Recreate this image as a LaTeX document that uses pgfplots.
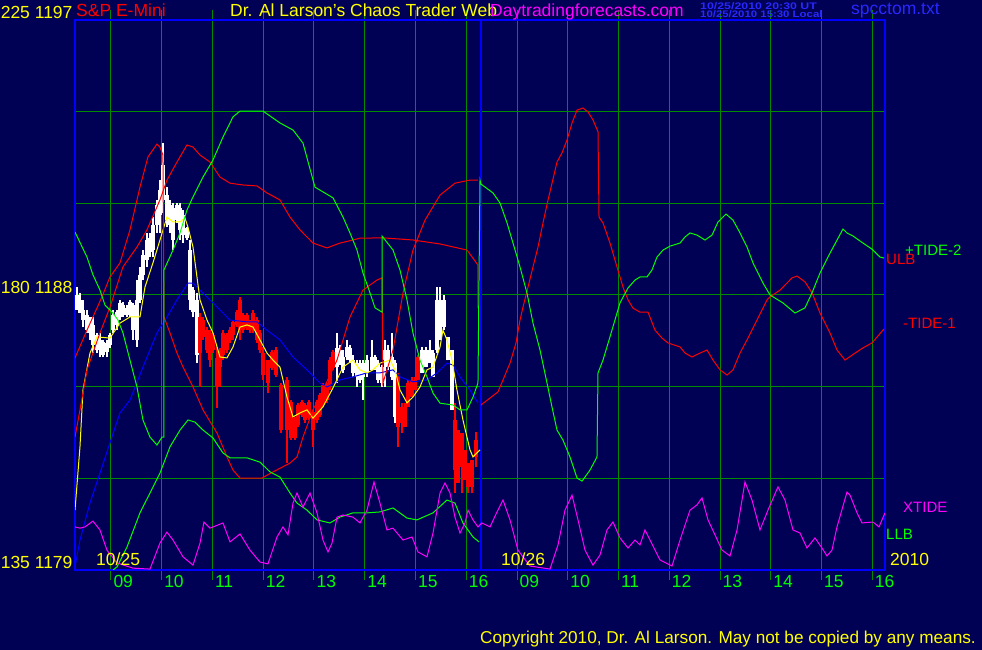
\documentclass[border=0pt]{standalone}
\usepackage{pgfplots}
\pgfplotsset{compat=1.18}
\usepackage{pgfplotstable}
\usepackage{graphicx}
\usepackage{fontspec}
\setmainfont{Liberation Sans}

\definecolor{bg}{RGB}{0,0,84}
\definecolor{gridg}{RGB}{0,140,0}
\definecolor{lgreen}{RGB}{0,255,0}
\definecolor{lred}{RGB}{255,0,0}
\definecolor{lmag}{RGB}{255,0,255}
\definecolor{lyel}{RGB}{255,255,0}
\definecolor{lblue}{RGB}{0,0,255}
\definecolor{tblue}{RGB}{40,40,255}

\newcommand\bigf{\fontsize{17.5}{20}\selectfont}
\newcommand\midf{\fontsize{15}{17}\selectfont}
\newcommand\smallf{\fontsize{9.5}{10}\selectfont\bfseries}

% price bars, 5 min: x = hour (day 2 = hour+8), wick low/high, body low/high
\pgfplotstableread{
x wl wh bl bh
8.330 1187.51 1188.26 1187.51 1188.00
8.389 1187.41 1188.06 1187.41 1187.84
8.448 1186.95 1187.84 1187.18 1187.51
8.527 1186.76 1187.51 1186.85 1187.35
8.586 1186.53 1187.28 1186.76 1187.28
8.645 1186.10 1187.28 1186.36 1187.02
8.724 1186.10 1186.76 1186.20 1186.69
8.783 1185.97 1186.76 1186.27 1186.53
8.842 1185.97 1186.53 1186.04 1186.46
8.921 1185.97 1186.53 1186.14 1186.43
8.980 1186.27 1186.76 1186.36 1186.69
9.039 1186.76 1187.51 1186.85 1187.35
9.118 1186.85 1187.51 1187.02 1187.44
9.177 1187.18 1187.84 1187.28 1187.74
9.236 1187.28 1187.77 1187.35 1187.67
9.315 1187.28 1187.67 1187.35 1187.57
9.374 1187.28 1187.84 1187.35 1187.77
9.433 1186.53 1187.74 1186.85 1187.67
9.512 1186.30 1188.49 1186.53 1187.84
9.571 1187.74 1188.92 1187.84 1188.65
9.630 1188.49 1189.47 1188.65 1189.31
9.709 1188.92 1190.03 1189.15 1189.80
9.768 1189.24 1190.03 1189.41 1189.87
9.827 1189.24 1190.55 1189.47 1190.29
9.906 1190.03 1191.11 1190.29 1190.95
9.965 1190.03 1191.76 1190.62 1191.44
10.024 1190.68 1192.97 1191.11 1192.26
10.103 1190.23 1191.53 1190.45 1191.27
10.162 1190.03 1191.11 1190.29 1190.95
10.222 1189.47 1191.01 1189.80 1190.85
10.300 1190.36 1191.01 1190.45 1190.95
10.360 1189.80 1191.01 1190.13 1190.85
10.419 1189.70 1190.78 1189.96 1190.62
10.497 1189.80 1190.23 1189.87 1190.19
10.557 1187.51 1189.80 1187.84 1189.47
10.616 1187.28 1188.26 1187.44 1188.16
10.694 1185.77 1188.06 1186.04 1187.84
13.453 1185.12 1186.76 1185.64 1186.27
13.512 1185.71 1186.36 1185.77 1186.20
13.571 1185.45 1186.20 1185.55 1185.97
13.650 1185.87 1186.53 1185.97 1186.30
13.709 1185.77 1186.36 1185.87 1186.27
13.768 1185.32 1186.04 1185.45 1185.87
13.847 1184.99 1185.87 1185.32 1185.77
13.906 1185.12 1185.87 1185.22 1185.77
13.965 1184.56 1185.87 1185.32 1185.77
14.044 1185.32 1186.04 1185.45 1185.87
14.143 1185.55 1186.53 1185.55 1185.97
14.202 1185.55 1186.04 1185.64 1185.97
14.261 1185.12 1185.87 1185.22 1185.77
14.340 1184.99 1185.71 1185.12 1185.64
14.399 1184.99 1186.53 1185.87 1186.20
14.458 1185.55 1186.36 1185.64 1186.20
14.537 1185.22 1186.76 1185.32 1185.97
14.596 1183.81 1185.87 1184.01 1185.77
15.128 1185.45 1186.30 1185.45 1186.20
15.207 1185.64 1186.30 1185.64 1186.20
15.286 1185.77 1186.53 1185.77 1186.20
15.345 1185.32 1186.20 1185.32 1186.10
15.423 1186.10 1188.26 1186.20 1187.84
15.483 1186.53 1188.26 1186.63 1187.84
15.562 1186.85 1188.00 1186.95 1187.84
15.640 1185.87 1186.63 1185.87 1186.63
15.719 1184.24 1186.20 1184.24 1186.20
}\upbars

\pgfplotstableread{
x wl wh bl bh
10.754 1184.99 1187.41 1186.10 1187.28
10.813 1186.53 1187.28 1186.63 1187.18
10.892 1186.10 1186.95 1186.20 1186.85
10.951 1185.64 1186.85 1185.87 1186.76
11.010 1186.10 1186.76 1186.20 1186.69
11.089 1184.30 1186.30 1184.99 1185.94
11.148 1184.99 1186.27 1185.64 1186.14
11.207 1185.87 1186.85 1186.04 1186.76
11.286 1186.10 1186.76 1186.20 1186.69
11.345 1186.43 1186.95 1186.53 1186.85
11.404 1186.53 1187.18 1186.69 1187.12
11.483 1186.95 1187.51 1187.02 1187.44
11.542 1186.53 1187.94 1186.85 1187.84
11.601 1186.76 1187.41 1186.85 1187.35
11.680 1186.85 1187.41 1186.92 1187.35
11.739 1186.76 1187.18 1186.85 1187.12
11.798 1186.76 1187.51 1186.85 1187.41
11.877 1186.43 1187.28 1186.53 1187.18
11.936 1186.10 1186.85 1186.20 1186.76
11.995 1185.22 1186.30 1185.38 1186.10
12.093 1184.78 1185.87 1185.12 1185.87
12.172 1185.55 1186.20 1185.61 1186.14
12.251 1185.32 1186.30 1185.38 1186.20
12.350 1183.48 1185.12 1183.58 1185.05
12.468 1182.50 1185.32 1183.58 1185.22
12.547 1183.25 1184.56 1183.32 1184.50
12.626 1183.25 1184.01 1183.32 1183.97
12.685 1183.68 1184.47 1183.75 1184.40
12.763 1184.01 1184.56 1184.07 1184.50
12.823 1183.81 1184.47 1183.91 1184.40
12.901 1183.91 1184.56 1183.97 1184.50
12.980 1183.02 1184.24 1183.58 1184.17
13.059 1183.81 1184.56 1183.91 1184.50
13.118 1184.01 1184.78 1184.07 1184.72
13.177 1184.34 1185.12 1184.40 1185.05
13.256 1184.47 1185.12 1184.56 1185.05
13.315 1184.89 1185.97 1185.05 1185.87
13.374 1185.55 1186.20 1185.61 1186.14
14.655 1183.02 1185.45 1183.68 1185.32
14.734 1183.48 1184.47 1183.81 1184.34
14.793 1183.68 1184.47 1183.68 1184.34
14.852 1184.34 1185.22 1184.34 1185.12
14.931 1184.66 1185.32 1184.66 1185.22
14.990 1184.89 1185.32 1184.89 1185.22
15.049 1185.22 1186.04 1185.22 1185.97
15.778 1181.52 1184.47 1182.27 1183.91
15.837 1181.85 1183.58 1181.85 1183.58
15.916 1181.52 1183.48 1182.37 1183.48
15.975 1181.95 1182.93 1181.95 1182.93
16.034 1181.52 1182.50 1181.72 1182.50
16.113 1181.52 1182.60 1181.72 1182.60
16.192 1182.37 1183.52 1182.70 1183.25
}\downbars

% one upward error bar per row: from low to high
\pgfplotsset{
  wick/.style={color=#1, only marks, mark=none, mark size=0pt, forget plot,
    error bars/.cd, y dir=plus, y explicit, error mark=none,
    error bar style={draw=#1, line width=1.3pt}},
  body/.style={color=#1, only marks, mark=none, mark size=0pt, forget plot,
    error bars/.cd, y dir=plus, y explicit, error mark=none,
    error bar style={draw=#1, line width=3.8pt}},
}

\begin{document}
\begin{tikzpicture}
\useasboundingbox (0,0) rectangle (982pt,650pt);
\fill[bg] (0,0) rectangle (982pt,650pt);
\begin{axis}[
  at={(75pt,80pt)}, anchor=south west,
  scale only axis, width=810pt, height=550pt,
  xmin=8.291, xmax=24.251, ymin=1179, ymax=1197,
  axis line style={lblue, line width=2.5pt},
  grid=major, major grid style={gridg, line width=1pt},
  xtick={9,...,24},
  xticklabels={09,10,11,12,13,14,15,16,09,10,11,12,13,14,15,16},
  ytick={1179,1182,...,1197},
  yticklabels={135\ 1179,,,180\ 1188,,,225\ 1197},
  tick align=outside, major tick length=10pt,
  xtick style={gridg, line width=1pt},
  ytick style={draw=none},
  xticklabel style={text=lgreen, anchor=north west, font=\bigf, xshift=-1pt, yshift=8pt},
  yticklabel style={text=lyel, anchor=base east, font=\bigf, xshift=11pt, yshift=1pt},
  /pgf/number format/assume math mode=true,
  clip=true,
]
% bars
\addplot[wick=white] table[x=x, y=wl, y error expr={\thisrow{wh}-\thisrow{wl}}] {\upbars};
\addplot[body=white] table[x=x, y=bl, y error expr={\thisrow{bh}-\thisrow{bl}}] {\upbars};
\addplot[wick=lred] table[x=x, y=wl, y error expr={\thisrow{wh}-\thisrow{wl}}] {\downbars};
\addplot[body=lred] table[x=x, y=bl, y error expr={\thisrow{bh}-\thisrow{bl}}] {\downbars};

% day separator
\addplot[lblue, line width=2.5pt] coordinates {(16.29,1179) (16.29,1197)};

% slow average
\addplot[lblue, line width=1pt] coordinates {
(8.291,1179.10) (8.389,1179.98) (8.586,1181.19) (8.783,1182.17) (8.980,1183.16)
(9.177,1184.14) (9.374,1184.56) (9.630,1185.64) (9.906,1186.76) (10.103,1187.28)
(10.300,1187.84) (10.517,1188.39) (10.616,1188.39) (10.754,1188.16) (11.010,1187.74)
(11.207,1187.41) (11.345,1187.18) (11.680,1187.12) (11.877,1187.12) (12.074,1186.85)
(12.330,1186.53) (12.586,1185.97) (12.862,1185.55) (13.118,1185.12) (13.256,1184.99)
(13.512,1185.22) (13.768,1185.32) (14.044,1185.45) (14.300,1185.45) (14.557,1185.55)
(14.695,1185.32) (14.950,1185.16) (15.226,1185.22) (15.423,1185.45) (15.620,1185.77)
(15.739,1185.71) (15.877,1185.32) (16.074,1184.89) (16.231,1184.47)};

% fast average
\addplot[lyel, line width=1pt] coordinates {
(8.291,1180.96) (8.389,1183.03) (8.448,1184.89) (8.586,1186.10) (8.724,1186.63)
(8.980,1186.59) (9.177,1187.08) (9.374,1187.28) (9.571,1187.28) (9.670,1188.26)
(9.827,1189.05) (9.965,1189.80) (10.103,1190.55) (10.222,1190.39) (10.360,1190.39)
(10.458,1190.52) (10.517,1190.22) (10.616,1189.57) (10.754,1187.84) (10.892,1187.18)
(11.010,1186.76) (11.148,1185.97) (11.286,1185.94) (11.404,1186.30) (11.542,1186.95)
(11.680,1187.02) (11.798,1186.95) (11.936,1186.53) (12.074,1186.10) (12.192,1185.87)
(12.330,1185.64) (12.468,1184.66) (12.586,1184.01) (12.724,1184.14) (12.862,1184.24)
(12.980,1183.97) (13.177,1184.34) (13.374,1184.96) (13.571,1185.64) (13.768,1185.87)
(13.906,1185.55) (14.044,1185.45) (14.162,1185.55) (14.300,1185.77) (14.498,1185.87)
(14.596,1185.55) (14.695,1184.89) (14.832,1184.47) (14.950,1184.66) (15.088,1184.99)
(15.226,1185.55) (15.345,1185.64) (15.483,1186.30) (15.541,1186.85) (15.620,1186.53)
(15.719,1185.87) (15.817,1184.89) (15.935,1183.91) (16.074,1182.93) (16.133,1182.70)
(16.271,1182.93)};

% red curves
\addplot[lred, line width=1pt] coordinates {
(8.291,1185.94) (8.527,1186.85) (8.823,1187.94) (8.980,1188.59) (9.177,1189.05)
(9.374,1190.13) (9.571,1191.53) (9.729,1192.52) (9.906,1192.94) (9.965,1192.84)
(10.024,1192.58) (10.044,1187.28) (10.162,1186.76) (10.300,1186.10) (10.419,1185.64)
(10.616,1184.99) (10.813,1184.24) (11.089,1183.48) (11.286,1182.70) (11.404,1182.27)
(11.542,1182.01) (11.975,1182.01) (12.192,1182.21) (12.527,1182.50) (12.665,1182.70)
(12.783,1183.35) (12.980,1184.24) (13.177,1184.89) (13.453,1185.87) (13.709,1187.28)
(13.965,1188.16) (14.241,1188.49) (14.340,1188.56) (14.359,1185.12) (14.557,1186.20)
(14.754,1188.07) (14.950,1189.47) (15.187,1190.45) (15.483,1191.27) (15.778,1191.66)
(16.074,1191.76) (16.231,1191.76)};
\addplot[lred, line width=1pt] coordinates {
(8.291,1183.35) (8.389,1184.24) (8.527,1185.55) (8.783,1186.76) (8.980,1187.60)
(9.236,1188.92) (9.512,1189.57) (9.709,1190.13) (9.965,1191.11) (10.103,1191.76)
(10.300,1192.35) (10.497,1192.91) (10.616,1192.84) (10.754,1192.58) (10.951,1192.35)
(11.148,1191.86) (11.345,1191.66) (11.601,1191.60) (11.877,1191.57) (12.074,1191.34)
(12.330,1191.11) (12.527,1190.55) (12.724,1190.13) (12.980,1189.70) (13.256,1189.54)
(13.512,1189.70) (13.768,1189.80) (13.906,1189.86) (14.359,1189.87) (14.950,1189.80)
(15.483,1189.67) (16.015,1189.47) (16.231,1188.98) (16.231,1187.57)};
\addplot[lred, line width=1pt] coordinates {
(16.290,1184.40) (16.625,1184.83) (16.724,1185.22) (16.862,1185.77) (16.980,1186.43)
(17.059,1187.18) (17.118,1187.60) (17.217,1188.26) (17.315,1188.92) (17.414,1189.57)
(17.512,1190.36) (17.611,1191.11) (17.690,1191.66) (17.788,1192.35) (17.886,1192.65)
(17.985,1193.07) (18.084,1193.63) (18.182,1194.05) (18.300,1194.12) (18.399,1193.99)
(18.497,1193.73) (18.596,1193.34) (18.616,1190.55) (18.694,1190.36) (18.832,1189.70)
(18.970,1188.92) (19.088,1188.26) (19.187,1187.84) (19.285,1187.57) (19.423,1187.44)
(19.581,1187.44) (19.719,1186.85) (19.857,1186.59) (19.975,1186.43) (20.212,1186.30)
(20.310,1186.10) (20.448,1185.97) (20.606,1186.10) (20.744,1186.20) (20.862,1185.87)
(21.000,1185.55) (21.138,1185.38) (21.256,1185.55) (21.394,1186.10) (21.532,1186.53)
(21.729,1187.18) (21.926,1187.84) (21.985,1187.94) (22.182,1188.16) (22.419,1188.56)
(22.517,1188.62) (22.674,1188.43) (22.813,1188.07) (22.970,1187.41) (23.167,1186.76)
(23.305,1186.20) (23.463,1185.87) (23.600,1186.03) (23.817,1186.27) (23.994,1186.43)
(24.231,1186.89)};

% green tide
\addplot[lgreen, line width=1pt] coordinates {
(8.291,1190.06) (8.527,1189.24) (8.645,1188.66) (8.783,1188.16) (8.882,1187.67)
(9.039,1187.41) (9.138,1187.18) (9.236,1186.76) (9.374,1185.87) (9.512,1184.99)
(9.630,1183.91) (9.768,1183.35) (9.906,1183.09) (10.005,1183.35) (10.044,1183.35)
(10.044,1188.82) (10.222,1189.47) (10.360,1190.03) (10.497,1190.78) (10.616,1191.21)
(10.813,1191.86) (11.010,1192.42) (11.207,1193.17) (11.404,1193.83) (11.542,1194.02)
(11.995,1194.02) (12.330,1193.63) (12.586,1193.40) (12.783,1192.97) (13.019,1191.53)
(13.374,1191.18) (13.571,1190.55) (13.709,1190.03) (13.847,1189.47) (13.965,1188.72)
(14.103,1188.07) (14.202,1187.58) (14.340,1187.44) (14.340,1189.93) (14.557,1189.47)
(14.694,1188.82) (14.832,1187.84) (14.950,1186.76) (15.088,1185.87) (15.226,1185.32)
(15.345,1184.79) (15.483,1184.46) (15.739,1184.40) (15.877,1184.24) (16.015,1184.24)
(16.133,1184.66) (16.231,1185.12) (16.271,1191.76) (16.290,1191.63) (16.527,1191.34)
(16.665,1191.01) (16.803,1190.36) (16.921,1189.70) (17.059,1188.92) (17.197,1188.06)
(17.315,1187.08) (17.453,1186.20) (17.591,1185.12) (17.690,1184.33) (17.788,1183.58)
(17.906,1183.25) (18.044,1182.70) (18.182,1182.01) (18.281,1181.91) (18.438,1182.27)
(18.576,1182.70) (18.596,1185.45) (18.694,1185.87) (18.832,1186.63) (19.029,1187.74)
(19.187,1188.23) (19.325,1188.49) (19.423,1188.59) (19.561,1188.59) (19.660,1188.82)
(19.758,1189.24) (19.877,1189.47) (20.015,1189.60) (20.212,1189.70) (20.310,1189.90)
(20.409,1190.03) (20.547,1189.96) (20.704,1189.80) (20.842,1189.96) (20.960,1190.39)
(21.118,1190.65) (21.256,1190.45) (21.394,1190.03) (21.532,1189.57) (21.650,1189.05)
(21.847,1188.39) (21.985,1188.00) (22.241,1187.74) (22.477,1187.41) (22.674,1187.58)
(22.813,1188.07) (22.970,1188.72) (23.167,1189.37) (23.423,1190.16) (23.502,1190.03)
(23.620,1189.93) (23.817,1189.70) (23.994,1189.50) (24.152,1189.24) (24.231,1189.21)};

% lower band
\addplot[lgreen, line width=1pt] coordinates {
(9.039,1179.00) (9.118,1179.10) (9.315,1179.75) (9.571,1180.87) (9.768,1181.52)
(9.965,1182.17) (10.162,1183.03) (10.360,1183.58) (10.517,1183.91) (10.655,1183.84)
(10.813,1183.58) (11.010,1183.32) (11.207,1182.83) (11.345,1182.67) (11.680,1182.67)
(11.936,1182.53) (12.133,1182.21) (12.330,1182.04) (12.527,1181.52) (12.665,1181.19)
(12.862,1180.96) (13.059,1180.64) (13.315,1180.54) (13.512,1180.73) (13.768,1180.87)
(14.044,1180.87) (14.300,1180.90) (14.557,1181.03) (14.832,1180.70) (15.029,1180.64)
(15.345,1180.87) (15.620,1181.29) (15.778,1181.19) (15.935,1180.54) (16.133,1180.08)
(16.251,1179.92)};

% xtide
\addplot[lmag, line width=1pt] coordinates {
(8.291,1180.41) (8.389,1180.37) (8.488,1180.41) (8.645,1180.60) (8.783,1180.31)
(8.921,1179.65) (9.118,1179.23) (9.433,1179.06) (9.768,1179.03) (9.965,1179.88)
(10.103,1180.24) (10.222,1179.98) (10.419,1179.43) (10.616,1179.16) (10.754,1179.88)
(10.832,1180.57) (10.951,1180.37) (11.207,1180.54) (11.345,1179.92) (11.542,1180.18)
(11.739,1179.65) (11.936,1179.26) (12.093,1179.20) (12.271,1180.08) (12.389,1180.41)
(12.488,1180.15) (12.586,1181.19) (12.665,1181.52) (12.783,1181.06) (12.921,1181.52)
(13.059,1180.87) (13.177,1179.98) (13.276,1179.59) (13.355,1179.88) (13.453,1180.73)
(13.571,1180.80) (13.768,1180.73) (13.906,1180.54) (14.044,1180.96) (14.182,1181.88)
(14.300,1181.19) (14.438,1180.31) (14.557,1180.37) (14.754,1179.98) (14.931,1180.08)
(15.049,1179.59) (15.226,1179.43) (15.345,1180.21) (15.483,1181.52) (15.581,1181.85)
(15.680,1181.52) (15.778,1180.73) (15.877,1180.21) (15.975,1180.54) (16.034,1180.96)
(16.133,1180.64) (16.231,1180.41) (16.310,1180.54) (16.468,1180.41) (16.606,1180.90)
(16.724,1181.29) (16.862,1180.64) (17.019,1179.65) (17.256,1179.13) (17.650,1179.03)
(17.808,1179.82) (17.946,1180.96) (18.084,1181.45) (18.202,1180.64) (18.340,1179.65)
(18.497,1179.16) (18.635,1179.49) (18.773,1180.31) (18.891,1180.57) (19.029,1180.05)
(19.187,1179.72) (19.325,1179.98) (19.423,1179.82) (19.522,1180.31) (19.620,1179.98)
(19.817,1179.33) (20.054,1179.13) (20.212,1179.98) (20.409,1180.96) (20.546,1181.13)
(20.645,1181.36) (20.763,1180.64) (20.901,1180.15) (21.039,1179.65) (21.197,1179.46)
(21.335,1180.31) (21.492,1181.88) (21.630,1181.29) (21.788,1180.31) (21.945,1180.96)
(22.142,1181.72) (22.280,1181.29) (22.438,1180.31) (22.576,1180.21) (22.714,1179.72)
(22.871,1180.05) (23.009,1179.72) (23.108,1179.46) (23.206,1179.65) (23.305,1180.41)
(23.502,1181.55) (23.562,1181.45) (23.700,1180.87) (23.798,1180.54) (24.015,1180.57)
(24.133,1180.41) (24.251,1180.87)};
\end{axis}

% header, labels and footer (picture coordinates, 1pt per reference pixel)
\node[anchor=base west, inner sep=0, text=lred, font=\bigf] at (76pt,633pt) {S\&P E-Mini};
\node[anchor=base west, inner sep=0, text=lyel, font=\bigf] at (230pt,633pt) {Dr. Al Larson's Chaos Trader Web};
\node[anchor=base west, inner sep=0, text=lmag, font=\bigf] at (490pt,633pt) {Daytradingforecasts.com};
\node[anchor=base west, inner sep=0, text=tblue, font=\smallf] at (700pt,640.5pt) {\scalebox{1.3}[1]{10/25/2010 20:30 UT}};
\node[anchor=base west, inner sep=0, text=tblue, font=\smallf] at (700pt,632.5pt) {\scalebox{1.2}[1]{10/25/2010 15:30 Local}};
\node[anchor=base west, inner sep=0, text=tblue, font=\bigf] at (851pt,635pt) {spcctom.txt};
\node[anchor=base west, inner sep=0, text=lgreen, font=\midf] at (905pt,394pt) {+TIDE-2};
\node[anchor=base west, inner sep=0, text=lred, font=\midf] at (886pt,385pt) {ULB};
\node[anchor=base west, inner sep=0, text=lred, font=\midf] at (903pt,321pt) {-TIDE-1};
\node[anchor=base west, inner sep=0, text=lmag, font=\midf] at (903pt,137pt) {XTIDE};
\node[anchor=base west, inner sep=0, text=lgreen, font=\midf] at (886pt,110pt) {LLB};
\node[anchor=base west, inner sep=0, text=lyel, font=\bigf] at (96pt,84pt) {10/25};
\node[anchor=base west, inner sep=0, text=lyel, font=\bigf] at (501pt,84pt) {10/26};
\node[anchor=base west, inner sep=0, text=lyel, font=\bigf] at (890pt,84pt) {2010};
\node[anchor=base west, inner sep=0, text=lyel, font=\fontsize{17.2}{20}\selectfont] at (480pt,6pt) {Copyright 2010, Dr. Al Larson. May not be copied by any means.};
\end{tikzpicture}
\end{document}
